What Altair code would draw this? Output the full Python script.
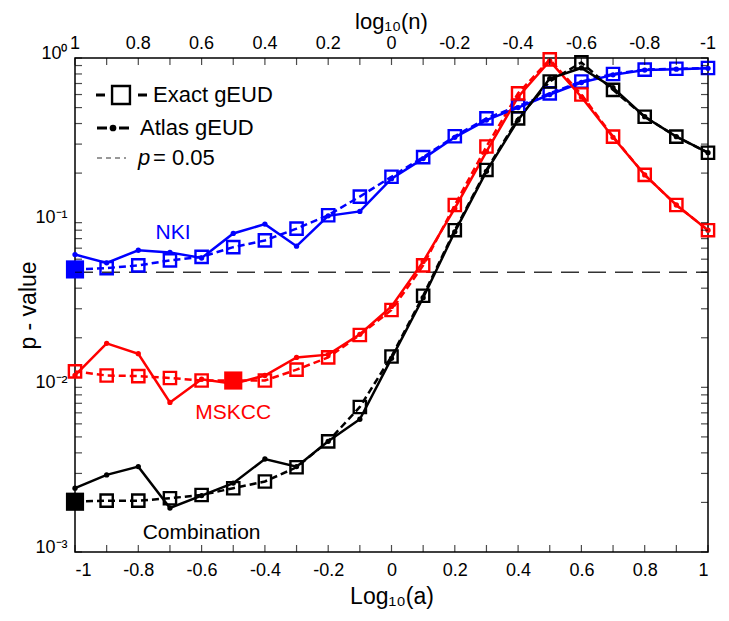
import altair as alt
import pandas as pd

# ---------------- data ----------------
x_vals = [-1.0, -0.9, -0.8, -0.7, -0.6, -0.5, -0.4, -0.3, -0.2, -0.1, 0.0,
          0.1, 0.2, 0.3, 0.4, 0.5, 0.6, 0.7, 0.8, 0.9, 1.0]

groups = ["NKI", "MSKCC", "Combination"]
group_colors = ["#0000FF", "#FF0000", "#000000"]

nki_exact = [0.052, 0.053, 0.055, 0.059, 0.062, 0.071, 0.078, 0.092, 0.111, 0.144, 0.19,
             0.25, 0.335, 0.43, 0.51, 0.61, 0.72, 0.80, 0.85, 0.86, 0.87]
nki_atlas = [0.064, 0.057, 0.068, 0.066, 0.061, 0.086, 0.098, 0.072, 0.110, 0.117, 0.185,
             0.245, 0.33, 0.42, 0.50, 0.60, 0.71, 0.79, 0.845, 0.855, 0.865]

mskcc_exact = [0.0125, 0.0118, 0.0117, 0.0114, 0.0110, 0.0110, 0.0110, 0.0128, 0.0152, 0.0208, 0.0295,
               0.055, 0.128, 0.29, 0.61, 0.98, 0.60, 0.333, 0.195, 0.128, 0.090]
mskcc_atlas = [0.0118, 0.0185, 0.0160, 0.0081, 0.0112, 0.0105, 0.0118, 0.0152, 0.0158, 0.0210, 0.031,
               0.058, 0.122, 0.27, 0.58, 0.96, 0.58, 0.33, 0.195, 0.128, 0.090]

comb_exact = [0.00202, 0.00205, 0.00205, 0.00212, 0.00222, 0.00244, 0.00268, 0.00327, 0.0047, 0.0076, 0.0154,
              0.036, 0.090, 0.209, 0.43, 0.72, 0.94, 0.64, 0.44, 0.333, 0.266]
comb_atlas = [0.00244, 0.00294, 0.0033, 0.00185, 0.0022, 0.00262, 0.00367, 0.0033, 0.0047, 0.0064, 0.0150,
              0.035, 0.088, 0.205, 0.42, 0.75, 0.87, 0.66, 0.44, 0.333, 0.266]

# minimum-p points drawn as large filled squares
best_group = ["NKI", "MSKCC", "Combination"]
best_x = [-1.0, -0.5, -1.0]
best_p = [0.052, 0.011, 0.00202]

# curve labels
label_text = ["NKI", "MSKCC", "Combination"]
label_x = [-0.69, -0.50, -0.60]
label_p = [0.087, 0.0070, 0.00130]

# axis ticks / labels
x_major = [-1.0, -0.8, -0.6, -0.4, -0.2, 0.0, 0.2, 0.4, 0.6, 0.8, 1.0]
top_labels = ["1", "0.8", "0.6", "0.4", "0.2", "0", "-0.2", "-0.4", "-0.6", "-0.8", "-1"]
y_major = [0.001, 0.01, 0.1, 1.0]
y_minor = [0.001, 0.002, 0.003, 0.004, 0.005, 0.006, 0.007, 0.008, 0.009,
           0.01, 0.02, 0.03, 0.04, 0.05, 0.06, 0.07, 0.08, 0.09,
           0.1, 0.2, 0.3, 0.4, 0.5, 0.6, 0.7, 0.8, 0.9, 1.0]
p_threshold = 0.05

# ---------------- tables ----------------
exact = {"NKI": nki_exact, "MSKCC": mskcc_exact, "Combination": comb_exact}
atlas = {"NKI": nki_atlas, "MSKCC": mskcc_atlas, "Combination": comb_atlas}
rows = []
for g in groups:
    for xv, pe, pa in zip(x_vals, exact[g], atlas[g]):
        rows.append({"x": xv, "p": pe, "group": g, "method": "Exact"})
        rows.append({"x": xv, "p": pa, "group": g, "method": "Atlas"})
df = pd.DataFrame(rows)
df_exact = df[df.method == "Exact"]
df_atlas = df[df.method == "Atlas"]
df_best = pd.DataFrame({"x": best_x, "p": best_p, "group": best_group})
df_lab = pd.DataFrame({"x": label_x, "p": label_p, "group": label_text, "t": label_text})
df_xt = pd.DataFrame({"x": x_vals})
df_top = pd.DataFrame({"x": x_major, "t": top_labels})
df_yt = pd.DataFrame({"p": y_minor})
one = pd.DataFrame({"a": [0]})

FONT = "Liberation Sans, Arial, sans-serif"
W, H = 633, 494


def X():
    return alt.X("x:Q",
                 scale=alt.Scale(domain=[-1, 1], nice=False, zero=False),
                 axis=alt.Axis(values=x_major, title="Log₁₀(a)",
                               labelExpr="toString(round(datum.value*10)/10)"))


def Y():
    return alt.Y("p:Q",
                 scale=alt.Scale(type="log", domain=[0.001, 1], nice=False),
                 axis=alt.Axis(values=y_major, title="p - value",
                               labelExpr="'10' + (datum.value >= 0.5 ? '⁰' : datum.value >= 0.05 ? '⁻¹' : datum.value >= 0.005 ? '⁻²' : '⁻³')"))


color = alt.Color("group:N", scale=alt.Scale(domain=groups, range=group_colors), legend=None)

thresh = alt.Chart(one).mark_rule(color="#333333", strokeWidth=1.3, strokeDash=[18, 9]).encode(
    x=alt.datum(-1), x2=alt.datum(1), y=alt.datum(p_threshold))

exact_line = alt.Chart(df_exact).mark_line(strokeWidth=2.5, strokeDash=[7, 4]).encode(
    x=X(), y=Y(), color=color, detail="group:N")
atlas_line = alt.Chart(df_atlas).mark_line(strokeWidth=2.5).encode(
    x=X(), y=Y(), color=color, detail="group:N")
atlas_dots = alt.Chart(df_atlas).mark_circle(size=28, opacity=1).encode(
    x=X(), y=Y(), color=color)
exact_sq = alt.Chart(df_exact).mark_point(shape="square", filled=False, size=150, strokeWidth=2.4, opacity=1).encode(
    x=X(), y=Y(), color=color)
best_sq = alt.Chart(df_best).mark_point(shape="square", filled=True, size=330, opacity=1).encode(
    x=X(), y=Y(), color=color)
labels = alt.Chart(df_lab).mark_text(font=FONT, fontSize=21, align="center", baseline="middle").encode(
    x=X(), y=Y(), text="t:N", color=color)

# inward ticks on all four sides
tick_b = alt.Chart(df_xt).mark_tick(orient="vertical", size=7, thickness=1.2, color="black", yOffset=-3.5).encode(
    x=X(), y=alt.datum(0.001))
tick_t = alt.Chart(df_xt).mark_tick(orient="vertical", size=7, thickness=1.2, color="black", yOffset=3.5).encode(
    x=X(), y=alt.datum(1.0))
tick_l = alt.Chart(df_yt).mark_tick(orient="horizontal", size=7, thickness=1.2, color="black", xOffset=3.5).encode(
    y=Y(), x=alt.datum(-1))
tick_r = alt.Chart(df_yt).mark_tick(orient="horizontal", size=7, thickness=1.2, color="black", xOffset=-3.5).encode(
    y=Y(), x=alt.datum(1))

top_text = alt.Chart(df_top).mark_text(font=FONT, fontSize=18, baseline="middle", dy=-14).encode(
    x=X(), y=alt.datum(1.0), text="t:N")
top_title = alt.Chart(one).mark_text(font=FONT, fontSize=22, baseline="middle", text="log₁₀(n)").encode(
    x=alt.value(W / 2), y=alt.value(-36))

# legend (drawn inside the plot, top-left)
leg = []
leg.append(alt.Chart(one).mark_rule(color="black", strokeWidth=3, strokeDash=[9, 33]).encode(
    x=alt.value(21), x2=alt.value(72), y=alt.value(37)))
leg.append(alt.Chart(one).mark_point(shape="square", filled=False, size=320, strokeWidth=2.4, color="black", opacity=1).encode(
    x=alt.value(46), y=alt.value(37)))
leg.append(alt.Chart(one).mark_text(font=FONT, fontSize=22, align="left", baseline="middle", text="Exact gEUD").encode(
    x=alt.value(78), y=alt.value(37)))
leg.append(alt.Chart(one).mark_rule(color="black", strokeWidth=3, strokeDash=[10, 12]).encode(
    x=alt.value(22), x2=alt.value(54), y=alt.value(70)))
leg.append(alt.Chart(one).mark_circle(size=45, color="black", opacity=1).encode(
    x=alt.value(38), y=alt.value(70)))
leg.append(alt.Chart(one).mark_text(font=FONT, fontSize=22, align="left", baseline="middle", text="Atlas gEUD").encode(
    x=alt.value(65), y=alt.value(70)))
leg.append(alt.Chart(one).mark_rule(color="#333333", strokeWidth=1.2, strokeDash=[5, 4]).encode(
    x=alt.value(22), x2=alt.value(51), y=alt.value(100)))
leg.append(alt.Chart(one).mark_text(font=FONT, fontSize=22, fontStyle="italic", align="left", baseline="middle", text="p").encode(
    x=alt.value(63), y=alt.value(100)))
leg.append(alt.Chart(one).mark_text(font=FONT, fontSize=22, align="left", baseline="middle", text="= 0.05").encode(
    x=alt.value(78), y=alt.value(100)))

chart = alt.layer(
    thresh, exact_line, atlas_line, atlas_dots, exact_sq, best_sq, labels,
    tick_b, tick_t, tick_l, tick_r, top_text, top_title, *leg
).properties(
    width=W, height=H,
    autosize=alt.AutoSizeParams(type="none"),
    padding={"left": 67, "top": 50, "right": 13, "bottom": 61},
).configure_view(
    stroke="black", strokeWidth=1.5
).configure_axis(
    domain=False, ticks=False, grid=False,
    labelFont=FONT, labelFontSize=18, labelColor="black",
    titleFont=FONT, titleFontSize=23, titleColor="black", titleFontWeight="normal",
).configure_axisX(
    labelPadding=9, titlePadding=6,
).configure_axisY(
    labelPadding=8, labelBaseline="alphabetic", titleX=-47, titleBaseline="middle",
)

chart.save("out.html", embed_options={"renderer": "svg", "actions": False})
